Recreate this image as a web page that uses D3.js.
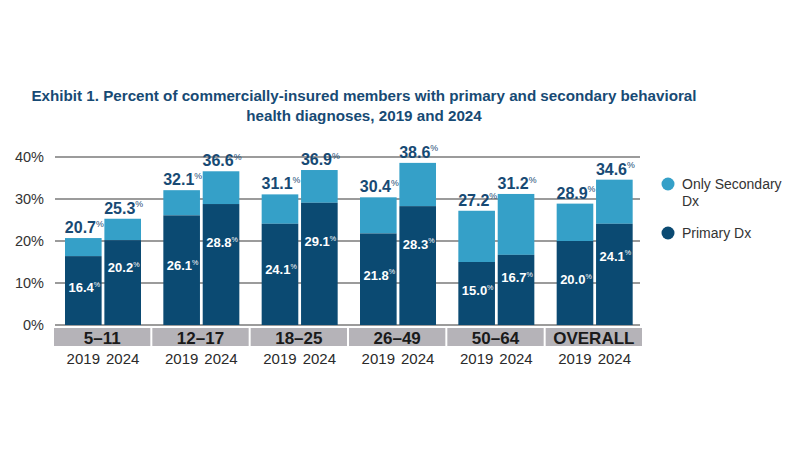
<!DOCTYPE html>
<html><head><meta charset="utf-8">
<script src="https://cdn.jsdelivr.net/npm/d3@7"></script>
<style>body{margin:0;background:#fff}svg{display:block}</style>
</head><body>
<script>
const groups = ["5–11","12–17","18–25","26–49","50–64","OVERALL"];
const years = ["2019","2024"];
const totals2019 = [20.7,32.1,31.1,30.4,27.2,28.9];
const totals2024 = [25.3,36.6,36.9,38.6,31.2,34.6];
const primary2019 = [16.4,26.1,24.1,21.8,15.0,20.0];
const primary2024 = [20.2,28.8,29.1,28.3,16.7,24.1];
const yTicks = [0,10,20,30,40];
const seriesNames = ["Only Secondary Dx","Primary Dx"];
const titleLines = ["Exhibit 1. Percent of commercially-insured members with primary and secondary behavioral","health diagnoses, 2019 and 2024"];

const W=800,H=450;
const cPrim="#0b4a72", cSec="#35a0c8", cTitle="#174a74";
const svg=d3.select("body").append("svg").attr("width",W).attr("height",H);
const font="'Liberation Sans', Arial, sans-serif";

svg.append("g").selectAll("text").data(titleLines).join("text")
  .attr("x",364).attr("y",(d,i)=>101+i*20).attr("text-anchor","middle")
  .attr("font-family",font).attr("font-weight","bold").attr("font-size",15.2)
  .attr("fill",cTitle).text(d=>d);

const x0=d3.scaleBand().domain(groups).range([54,642]).paddingInner(0.0204).paddingOuter(0);
const x1=d3.scaleBand().domain(years).range([11,87]).paddingInner(0.07);
const y=d3.scaleLinear().domain([0,40]).range([325,157]);

// grid
svg.append("g").selectAll("line").data(yTicks).join("line")
  .attr("x1",55).attr("x2",640).attr("y1",d=>y(d)).attr("y2",d=>y(d))
  .attr("stroke","#7a7a7a").attr("stroke-width",1.5);
const yAxis=svg.append("g").attr("transform","translate(47,0)")
  .call(d3.axisLeft(y).tickValues(yTicks).tickSize(0).tickFormat(d=>d+"%"));
yAxis.select(".domain").remove();
yAxis.selectAll("text").attr("font-family",font).attr("font-size",14.5).attr("fill","#333").attr("dx",0);

const data=[];
groups.forEach((g,i)=>{
  data.push({g,yr:"2019",tot:totals2019[i],prim:primary2019[i],f:0.55});
  data.push({g,yr:"2024",tot:totals2024[i],prim:primary2024[i],f:0.685});
});
const bars=svg.append("g").selectAll("g").data(data).join("g")
  .attr("transform",d=>`translate(${x0(d.g)+x1(d.yr)},0)`);
const bw=x1.bandwidth();
bars.append("rect").attr("x",0).attr("width",bw).attr("y",d=>y(d.tot)).attr("height",d=>y(d.prim)-y(d.tot)).attr("fill",cSec);
bars.append("rect").attr("x",0).attr("width",bw).attr("y",d=>y(d.prim)).attr("height",d=>y(0)-y(d.prim)).attr("fill",cPrim);

function label(sel,val,yy,col,fs){
  const t=sel.append("text").attr("x",bw/2+1).attr("y",yy).attr("text-anchor","middle")
    .attr("font-family",font).attr("font-weight","bold").attr("fill",col).attr("font-size",fs);
  t.append("tspan").text(val);
  t.append("tspan").attr("font-size",fs*0.55).attr("dy",-fs*0.4).attr("font-weight","normal").text("%");
}
bars.each(function(d){
  const s=d3.select(this);
  label(s,d.tot.toFixed(1),y(d.tot)-5,cTitle,16);
  label(s,d.prim.toFixed(1),y(d.prim*d.f)+5,"#fff",13);
});

// category bands
const cat=svg.append("g").selectAll("g").data(groups).join("g");
cat.append("rect").attr("x",d=>x0(d)).attr("width",x0.bandwidth()).attr("y",328).attr("height",18).attr("fill","#b5b3b8");
cat.append("text").attr("x",d=>x0(d)+x0.bandwidth()/2).attr("y",343.5).attr("text-anchor","middle")
  .attr("font-family",font).attr("font-weight","bold").attr("font-size",17).attr("fill","#1a1a1a").text(d=>d);
bars.append("text").attr("x",bw/2).attr("y",364).attr("text-anchor","middle")
  .attr("font-family",font).attr("font-size",15).attr("fill","#2a2a2a").text(d=>d.yr);

// legend
const lg=svg.append("g");
lg.append("circle").attr("cx",668).attr("cy",184).attr("r",6.5).attr("fill",cSec);
lg.append("text").attr("x",682).attr("y",189).attr("font-family",font).attr("font-size",14).attr("fill","#333").text("Only Secondary");
lg.append("text").attr("x",682).attr("y",206).attr("font-family",font).attr("font-size",14).attr("fill","#333").text("Dx");
lg.append("circle").attr("cx",668).attr("cy",233).attr("r",6.5).attr("fill",cPrim);
lg.append("text").attr("x",682).attr("y",238).attr("font-family",font).attr("font-size",14).attr("fill","#333").text("Primary Dx");
</script>
</body></html>
